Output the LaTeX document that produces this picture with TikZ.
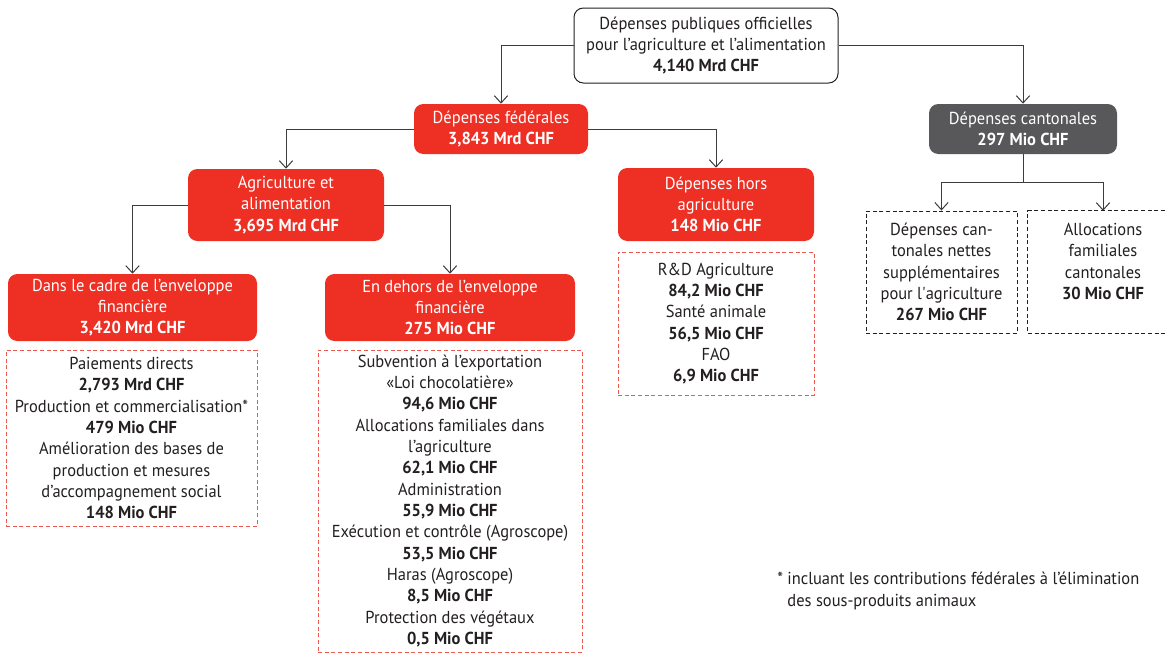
\documentclass[tikz,border=0pt]{standalone}
\usepackage{fontspec}
\setmainfont{PT Sans}[FakeStretch=0.95]
\usetikzlibrary{arrows.meta}
\definecolor{bred}{RGB}{237,47,36}
\definecolor{bgray}{RGB}{88,88,90}
\definecolor{dred}{RGB}{234,88,78}
\definecolor{ink}{RGB}{35,31,32}
\definecolor{lineink}{RGB}{60,60,60}
\begin{document}
\begin{tikzpicture}[x=0.75pt,y=-0.75pt,
  font=\fontsize{13}{16}\selectfont, text=ink,
  wh/.style 2 args={minimum width=#1*0.75pt, minimum height=#2*0.75pt},
  box/.style={rounded corners=7pt, align=center, inner sep=0pt},
  topbox/.style={box, draw=ink, line width=0.75pt, fill=white},
  redbox/.style={box, fill=bred, text=white},
  graybox/.style={box, fill=bgray, text=white},
  reddash/.style={align=center, inner sep=0pt, draw=dred, line width=0.7pt, dash pattern=on 3pt off 2pt},
  blackdash/.style={align=center, inner sep=0pt, draw=ink, line width=0.7pt, dash pattern=on 3pt off 2pt},
  conn/.style={draw=lineink, line width=0.75pt, -{Straight Barb[length=5.5pt,width=10pt,line width=0.75pt]}},
  plain/.style={draw=lineink, line width=0.75pt}
]
\useasboundingbox (0,0) rectangle (1168,654);

% top
\node[topbox, wh={264}{75}] (top) at (706,45.5)
  {Dépenses publiques officielles\\pour l’agriculture et l’alimentation\\\textbf{4,140 Mrd CHF}};

% level 2
\node[redbox, wh={174}{50}] (fed) at (501,129) {Dépenses fédérales\\\textbf{3,843 Mrd CHF}};
\node[graybox, wh={188}{50}] (cant) at (1023,129) {Dépenses cantonales\\\textbf{297 Mio CHF}};

% level 3
\node[redbox, wh={196}{72}] (agri) at (286,205) {Agriculture et\\alimentation\\\textbf{3,695 Mrd CHF}};
\node[redbox, wh={196}{73}] (hors) at (716,204.5) {Dépenses hors\\agriculture\\\textbf{148 Mio CHF}};

% level 4
\node[redbox, wh={249}{67}] (dans) at (132.5,307.5) {Dans le cadre de l’enveloppe\\financière\\\textbf{3,420 Mrd CHF}};
\node[redbox, wh={250}{67}] (dehors) at (450,307.5) {En dehors de l’enveloppe\\financière\\\textbf{275 Mio CHF}};

% detail boxes
\node[reddash, wh={251}{176}] (dansd) at (131.5,438)
  {Paiements directs\\\textbf{2,793 Mrd CHF}\\Production et commercialisation*\\\textbf{479 Mio CHF}\\Amélioration des bases de\\production et mesures\\d’accompagnement social\\\textbf{148 Mio CHF}};
\node[reddash, wh={264}{302}] (dehorsd) at (450,501)
  {Subvention à l’exportation\\«Loi chocolatière»\\\textbf{94,6 Mio CHF}\\Allocations familiales dans\\l’agriculture\\\textbf{62,1 Mio CHF}\\Administration\\\textbf{55,9 Mio CHF}\\Exécution et contrôle (Agroscope)\\\textbf{53,5 Mio CHF}\\Haras (Agroscope)\\\textbf{8,5 Mio CHF}\\Protection des végétaux\\\textbf{0,5 Mio CHF}};
\node[reddash, wh={196}{143}] (horsd) at (716,323.5)
  {R\&D Agriculture\\\textbf{84,2 Mio CHF}\\Santé animale\\\textbf{56,5 Mio CHF}\\FAO\\\textbf{6,9 Mio CHF}};

% cantonal details
\node[blackdash, wh={151}{122}] (cl) at (941.5,272)
  {Dépenses can-\\tonales nettes\\supplémentaires\\pour l\textquotesingle agriculture\\\textbf{267 Mio CHF}};
\node[align=center, inner sep=0pt, wh={150}{122}] (cr) at (1103,272)
  {Allocations\\familiales\\cantonales\\\textbf{30 Mio CHF}\\~};
\draw[draw=ink, line width=0.7pt, dash pattern=on 3pt off 2pt]
  (cr.north east) -- (cr.north west) -- (cr.south west) -- (cr.south east);

% connectors
\draw[conn] (top.west) -| (fed.north);
\draw[conn] (top.east) -| (cant.north);
\draw[conn] (fed.west) -| (agri.north);
\draw[conn] (fed.east) -| (hors.north);
\draw[conn] (agri.west) -| (dans.north);
\draw[conn] (agri.east) -| (dehors.north);
\coordinate (cj) at ([yshift=-28*0.75pt]cant.south);
\draw[plain] (cant.south) -- (cj);
\draw[conn] (cj) -| (cl.north);
\draw[conn] (cj) -| (cr.north);

% footnote
\node[anchor=north west, align=left, inner sep=0pt] (note) at (777,572)
  {*~incluant les contributions fédérales à l’élimination\\\phantom{*~}des sous-produits animaux};
\end{tikzpicture}
\end{document}
